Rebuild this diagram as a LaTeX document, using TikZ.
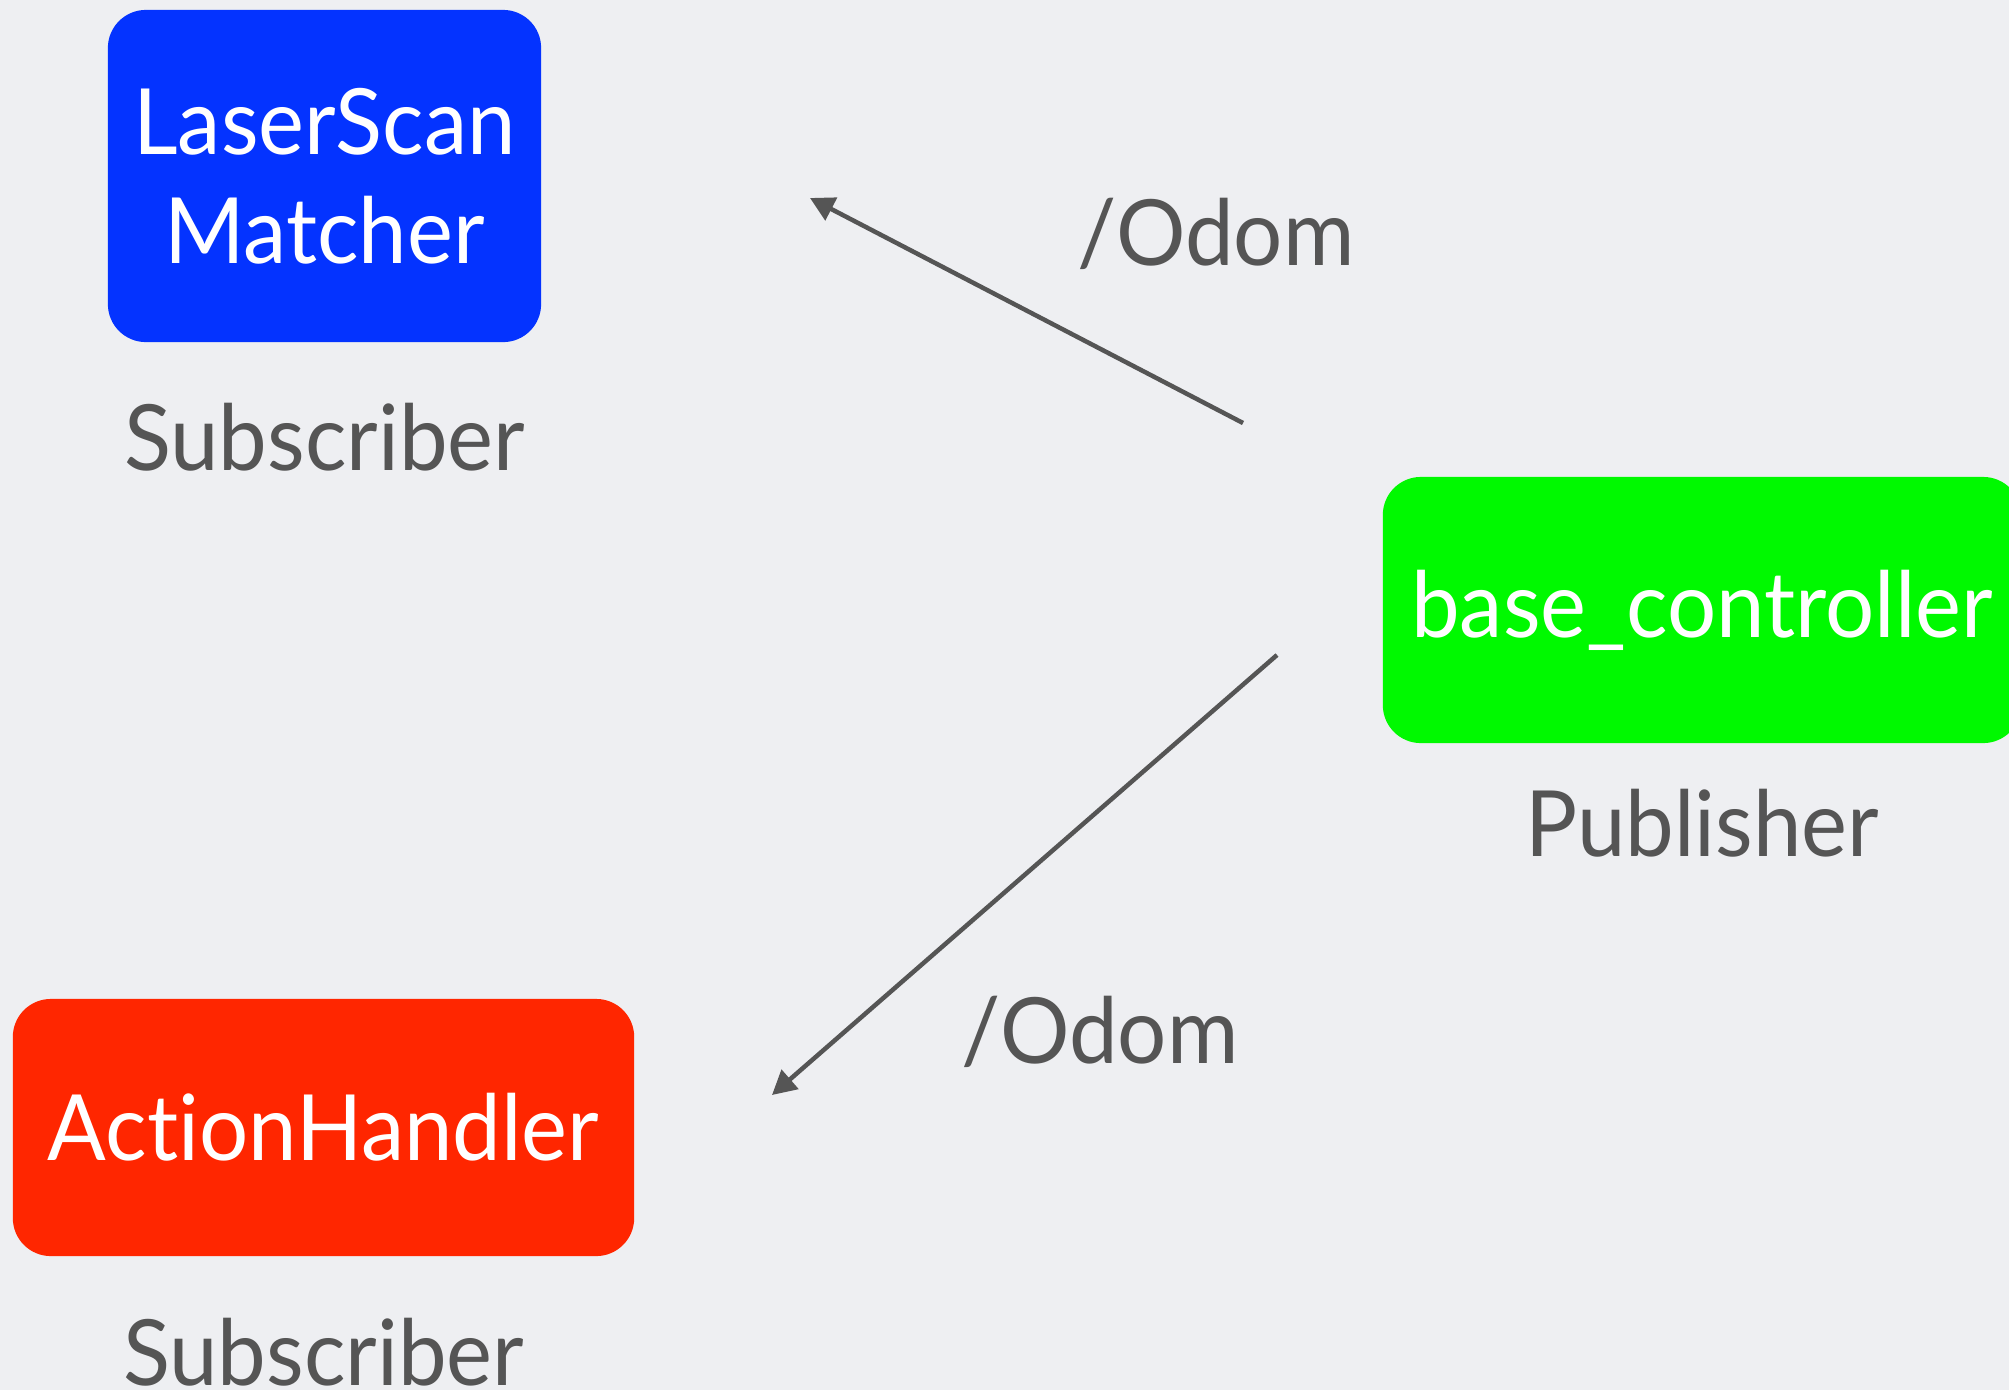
\documentclass[tikz,border=0pt]{standalone}
\usepackage{fontspec}
\setmainfont{Lato}[FakeStretch=0.95, Ligatures=NoCommon]
\usetikzlibrary{positioning, arrows.meta}
\definecolor{bgGrey}{HTML}{EEEFF2}
\definecolor{textGrey}{HTML}{555555}
\definecolor{scanBlue}{HTML}{0433FF}
\definecolor{handlerRed}{HTML}{FF2600}
\definecolor{baseGreen}{HTML}{00F900}

\begin{document}
\begin{tikzpicture}[x=0.01cm, y=-0.01cm, node distance=2cm]
        \tikzstyle{program} = [rectangle, rounded corners=0.38cm, text=white, text centered, align=center, font=\fontsize{26}{31}\selectfont]
        \tikzstyle{role} = [text=textGrey, font=\fontsize{26}{31}\selectfont]
        \tikzstyle{topic} = [text=textGrey, anchor=base, font=\fontsize{26}{31}\selectfont]
        \tikzstyle{message} = [-{Triangle[length=0.24cm, width=0.25cm]}, draw=textGrey, line width=0.045cm]

        \clip (0,0) rectangle (2009,1390);
        \fill[bgGrey] (0,0) rectangle (2009,1390);

        \node[program, fill=scanBlue, minimum width=4.33cm, minimum height=3.32cm] (scanMatcher) at (324.5,176) {LaserScan\\Matcher};
        \node[role, below of=scanMatcher, yshift=-0.61cm] (scanRole) {Subscriber};

        \node[program, fill=handlerRed, minimum width=6.21cm, minimum height=2.57cm] (actionHandler) at (323.5,1127.5) {ActionHandler};
        \node[role, below of=actionHandler, yshift=-0.25cm] (handlerRole) {Subscriber};

        \node[program, fill=baseGreen, minimum width=6.38cm, minimum height=2.66cm] (baseController) at (1702,610) {base\_controller};
        \node[role, below of=baseController, yshift=-0.13cm] (baseRole) {Publisher};

        %odom to scan matcher
        \coordinate (odomFromA) at (1243,423);
        \coordinate (odomToA) at (810,198);
        \draw[message] (odomFromA) -- (odomToA);
        \node[topic] (odomLabelA) at (1216,265) {/Odom};

        %odom to action handler
        \coordinate (odomFromB) at (1277,655);
        \coordinate (odomToB) at (772,1095);
        \draw[message] (odomFromB) -- (odomToB);
        \node[topic] (odomLabelB) at (1100,1063) {/Odom};
    \end{tikzpicture}
\end{document}
